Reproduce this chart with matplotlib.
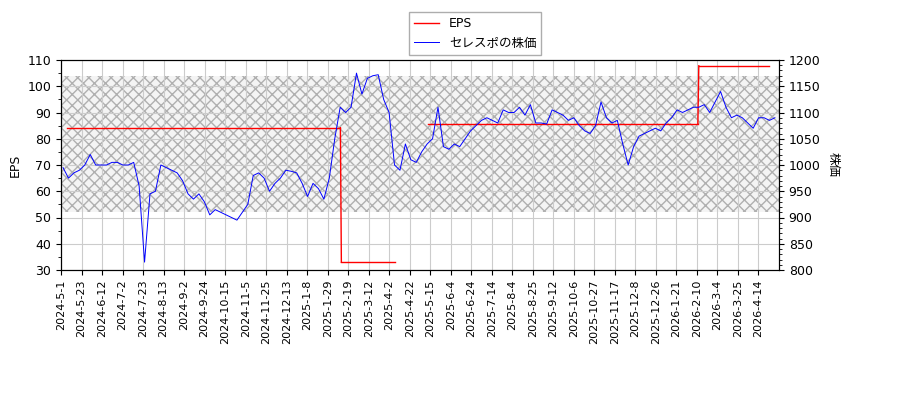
import numpy as np
import pandas as pd
import matplotlib
matplotlib.use("Agg")
import matplotlib.pyplot as plt
from matplotlib.ticker import MultipleLocator

plt.rcParams['font.family'] = ['DejaVu Sans', 'Noto Sans CJK JP']

# weekly price readings (yen), 2024-05 .. 2026-04
price_values = [
    995, 975, 985, 990, 1000,
    1020, 1000, 1000, 1000,
    1005, 1005, 1000, 1000, 1005,
    960, 815, 945, 950, 1000, 995,
    990, 985, 970, 945, 935, 945, 930,
    905, 915, 910, 905, 900, 895, 910, 925, 980, 985, 975,
    950, 965, 975, 990, 988, 985,
    965, 940, 965, 955, 935, 975, 1050, 1110, 1100, 1110,
    1175, 1135, 1165, 1170, 1172, 1125, 1100,
    1000, 990, 1040, 1010, 1005, 1025, 1040, 1050,
    1110, 1035, 1030, 1040, 1035,
    1050, 1065, 1075, 1085, 1090, 1085,
    1080, 1105, 1100, 1100, 1110, 1095, 1115, 1080, 1080, 1078,
    1105, 1100, 1095, 1085, 1090,
    1075, 1065, 1060, 1075, 1120, 1090,
    1080, 1085, 1040, 1000, 1035,
    1055, 1060, 1065, 1070, 1065, 1080, 1090,
    1105, 1100, 1105, 1110, 1110, 1115, 1100, 1120,
    1140, 1110, 1090, 1095, 1090, 1080, 1070, 1090,
    1090, 1085, 1090,
]
# EPS step changes: (start date, end date, value)
eps_steps = [
    ("2024-05-07", "2025-02-11", 84.2),
    ("2025-02-12", "2025-04-08", 33.0),
    ("2025-05-13", "2026-02-11", 85.8),
    ("2026-02-12", "2026-04-30", 107.8),
]
tick_labels = ["2024-5-1", "2024-5-23", "2024-6-12", "2024-7-2", "2024-7-23", "2024-8-13",
               "2024-9-2", "2024-9-24", "2024-10-15", "2024-11-5", "2024-11-25", "2024-12-13",
               "2025-1-8", "2025-1-29", "2025-2-19", "2025-3-12", "2025-4-2", "2025-4-22",
               "2025-5-15", "2025-6-4", "2025-6-24", "2025-7-14", "2025-8-4", "2025-8-25",
               "2025-9-12", "2025-10-6", "2025-10-27", "2025-11-17", "2025-12-8", "2025-12-26",
               "2026-1-21", "2026-2-10", "2026-3-4", "2026-3-25", "2026-4-14"]

# trading-day style axis: ticks evenly spaced
tick_ord = np.array([pd.Timestamp(t).toordinal() for t in tick_labels])
tick_pos = np.arange(len(tick_labels))
x_end = 35.0

def to_x(date):
    o = pd.Timestamp(date).toordinal()
    return np.interp(o, tick_ord, tick_pos, right=34 + (o - tick_ord[-1]) / 30.0)

price_x = np.linspace(0.1, x_end - 0.2, len(price_values))

fig = plt.figure(figsize=(9, 4), dpi=100)
ax = fig.add_axes([61/900, 1-270/400, 718/900, 210/400])
ax2 = ax.twinx()

ax.axhspan(52, 104, facecolor="#f4f4f4", edgecolor="#b0b0b0", hatch="xxx", lw=0, zorder=0)

for i, (s, e, v) in enumerate(eps_steps):
    ax.plot([to_x(s), to_x(e)], [v, v], color="red", lw=1, label="EPS" if i == 0 else None)
    if i + 1 < len(eps_steps) and i != 1:
        ax.plot([to_x(e), to_x(eps_steps[i+1][0])], [v, eps_steps[i+1][2]], color="red", lw=1)

ax2.plot(price_x, price_values, color="blue", lw=0.7, label="セレスポの株価")

ax.set_xlim(0, x_end)
ax.set_ylim(30, 110)
ax2.set_ylim(800, 1200)
ax.yaxis.set_minor_locator(MultipleLocator(5))
ax2.yaxis.set_minor_locator(MultipleLocator(10))
ax.set_xticks(tick_pos)
ax.set_xticklabels(tick_labels, rotation=90, fontsize=8)
ax.tick_params(axis="y", labelsize=9)
ax2.tick_params(axis="y", labelsize=9)
ax.grid(color="#cccccc", lw=0.8)
ax.set_ylabel("EPS", fontsize=9)
ax2.set_ylabel("株価", fontsize=9, family=['Noto Sans CJK JP'], rotation=270, labelpad=14)

h1, l1 = ax.get_legend_handles_labels()
h2, l2 = ax2.get_legend_handles_labels()
fig.legend(h1 + h2, l1 + l2, loc="upper center", bbox_to_anchor=(475/900, 0.985),
           fancybox=False, edgecolor="#999999",
           prop={'family': ['DejaVu Sans', 'Noto Sans CJK JP'], 'size': 9})

plt.savefig("out.png")
